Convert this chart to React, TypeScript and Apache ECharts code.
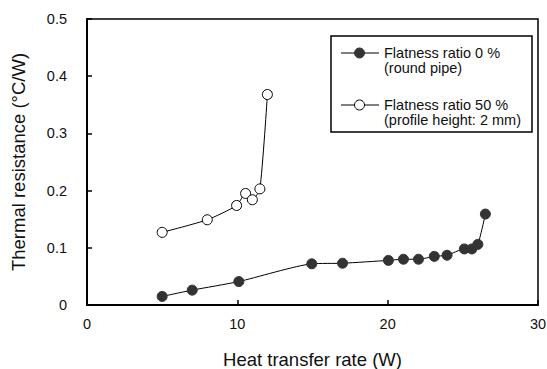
import React, { useEffect, useRef } from "react";
import * as echarts from "echarts";

// Flatness ratio 0 % (round pipe)
const roundX = [5.0, 7.0, 10.1, 14.95, 17.0, 20.05, 21.05, 22.05, 23.1, 23.95, 25.1, 25.6, 26.0, 26.5];
const roundY = [0.015, 0.026, 0.041, 0.072, 0.073, 0.078, 0.080, 0.080, 0.085, 0.087, 0.098, 0.098, 0.106, 0.159];

// Flatness ratio 50 % (profile height: 2 mm)
const flatX = [5.0, 8.0, 9.95, 10.55, 11.0, 11.5, 12.0];
const flatY = [0.127, 0.149, 0.174, 0.195, 0.184, 0.203, 0.368];

const xTicks = { min: 0, max: 30, interval: 10 };
const yTicks = { min: 0, max: 0.5, interval: 0.1 };

const legendNames = [
  ["Flatness ratio 0 %", "(round pipe)"],
  ["Flatness ratio 50 %", "(profile height: 2 mm)"],
];

const FONT = "'Liberation Sans', Arial, sans-serif";

export default function App() {
  const ref = useRef<HTMLDivElement>(null);
  useEffect(() => {
    if (!ref.current) return;
    const chart = echarts.init(ref.current, null, { renderer: "svg" });
    const zip = (xs: number[], ys: number[]) => xs.map((x, i) => [x, ys[i]]);
    const legendItem = (y: number, filled: boolean, lines: string[]) => [
      { type: "line", shape: { x1: 341, y1: y, x2: 379, y2: y }, style: { stroke: "#000", lineWidth: 1 } },
      {
        type: "circle",
        shape: { cx: 359.5, cy: y, r: 5 },
        style: { fill: filled ? "#333" : "#fff", stroke: filled ? "#333" : "#000", lineWidth: 1 },
      },
      {
        type: "text",
        x: 384,
        y: y,
        style: { text: lines[0], font: `14.5px ${FONT}`, fill: "#111", verticalAlign: "middle" },
      },
      {
        type: "text",
        x: 384,
        y: y + 15,
        style: { text: lines[1], font: `14.5px ${FONT}`, fill: "#111", verticalAlign: "middle" },
      },
    ];
    chart.setOption({
      animation: false,
      backgroundColor: "#fff",
      textStyle: { fontFamily: FONT },
      grid: {
        left: 87,
        right: 9,
        top: 19,
        bottom: 64,
        show: true,
        borderColor: "#000",
        borderWidth: 1.5,
        containLabel: false,
        outerBoundsMode: "none",
      },
      xAxis: {
        type: "value",
        ...xTicks,
        name: "Heat transfer rate (W)",
        nameLocation: "middle",
        nameGap: 45,
        nameTextStyle: { fontSize: 18.5, color: "#111", fontFamily: FONT },
        axisLine: { show: true, lineStyle: { color: "#000", width: 2 } },
        axisTick: { show: true, inside: true, length: 5, lineStyle: { color: "#000", width: 1.5 } },
        axisLabel: { fontSize: 14.5, color: "#111", margin: 11, fontFamily: FONT },
        splitLine: { show: false },
      },
      yAxis: {
        type: "value",
        ...yTicks,
        name: "Thermal resistance (°C/W)",
        nameLocation: "middle",
        nameGap: 59,
        nameTextStyle: { fontSize: 18.5, color: "#111", fontFamily: FONT },
        axisLine: { show: true, lineStyle: { color: "#000", width: 2 } },
        axisTick: { show: true, inside: true, length: 5, lineStyle: { color: "#000", width: 1.5 } },
        axisLabel: { fontSize: 14.5, color: "#111", margin: 20, fontFamily: FONT },
        splitLine: { show: false },
      },
      series: [
        {
          type: "line",
          name: legendNames[0][0],
          data: zip(roundX, roundY),
          smooth: 0.2,
          symbol: "circle",
          symbolSize: 10,
          lineStyle: { color: "#000", width: 1 },
          itemStyle: { color: "#333", borderColor: "#333", borderWidth: 1 },
          z: 3,
        },
        {
          type: "line",
          name: legendNames[1][0],
          data: zip(flatX, flatY),
          smooth: 0.2,
          symbol: "circle",
          symbolSize: 10,
          lineStyle: { color: "#000", width: 1 },
          itemStyle: { color: "#fff", borderColor: "#000", borderWidth: 1 },
          z: 3,
        },
      ],
      graphic: [
        {
          type: "rect",
          shape: { x: 331, y: 36, width: 201, height: 96 },
          style: { fill: "#fff", stroke: "#000", lineWidth: 1.5 },
          z: 10,
        },
        ...legendItem(53, true, legendNames[0]).map((e) => ({ ...e, z: 11 })),
        ...legendItem(105, false, legendNames[1]).map((e) => ({ ...e, z: 11 })),
      ],
    });
    return () => chart.dispose();
  }, []);
  return (
    <div
      ref={ref}
      style={{ position: "absolute", left: 0, top: 0, width: 547, height: 369 }}
    />
  );
}
